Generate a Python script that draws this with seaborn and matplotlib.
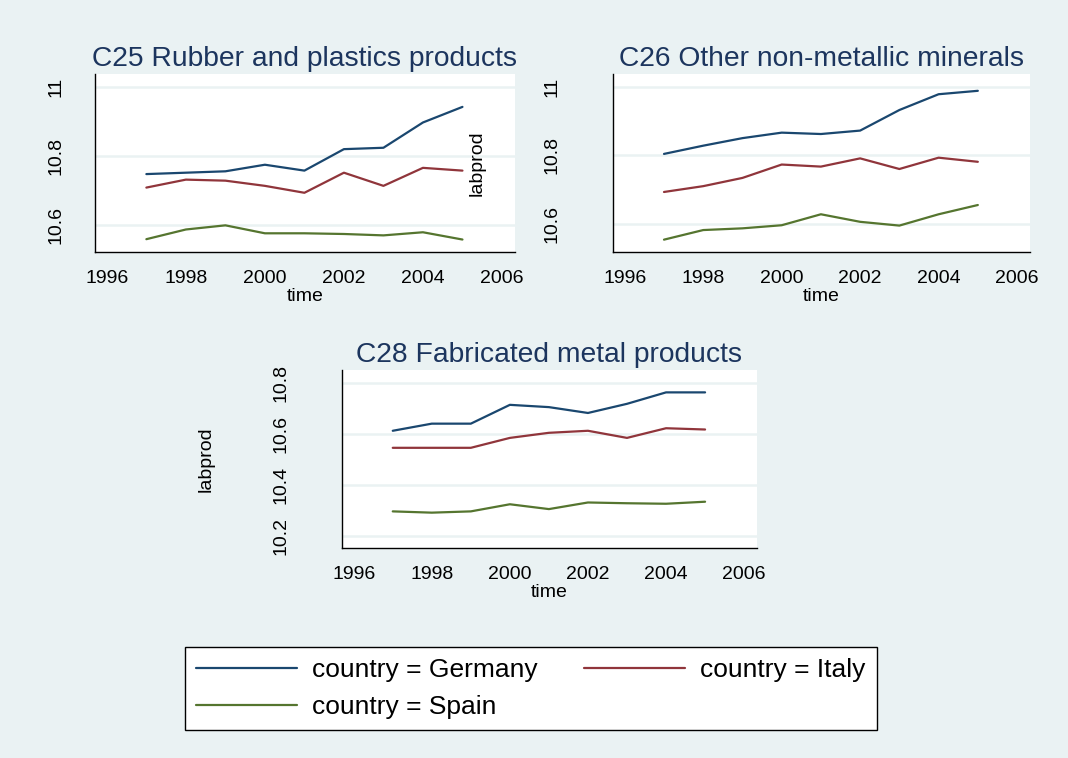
import matplotlib
matplotlib.use("Agg")
import matplotlib.pyplot as plt
import pandas as pd
import seaborn as sns

# labour productivity (log) per sector, 1997-2005
years = [1997, 1998, 1999, 2000, 2001, 2002, 2003, 2004, 2005]

c25_germany = [10.748, 10.752, 10.756, 10.775, 10.758, 10.820, 10.824, 10.897, 10.942]
c25_italy = [10.709, 10.732, 10.729, 10.714, 10.694, 10.752, 10.714, 10.766, 10.758]
c25_spain = [10.560, 10.588, 10.600, 10.577, 10.577, 10.575, 10.571, 10.580, 10.559]

c26_germany = [10.804, 10.828, 10.850, 10.866, 10.862, 10.872, 10.932, 10.978, 10.988]
c26_italy = [10.693, 10.710, 10.734, 10.773, 10.767, 10.791, 10.760, 10.793, 10.781]
c26_spain = [10.554, 10.582, 10.587, 10.596, 10.628, 10.606, 10.595, 10.628, 10.655]

c28_germany = [10.614, 10.642, 10.642, 10.716, 10.707, 10.684, 10.720, 10.765, 10.765]
c28_italy = [10.547, 10.547, 10.547, 10.586, 10.606, 10.614, 10.586, 10.624, 10.619]
c28_spain = [10.297, 10.292, 10.297, 10.325, 10.306, 10.332, 10.329, 10.327, 10.335]

countries = ["Germany", "Italy", "Spain"]
sectors = ["C25 Rubber and plastics products",
           "C26 Other non-metallic minerals",
           "C28 Fabricated metal products"]
series = {
    sectors[0]: [c25_germany, c25_italy, c25_spain],
    sectors[1]: [c26_germany, c26_italy, c26_spain],
    sectors[2]: [c28_germany, c28_italy, c28_spain],
}

rows = []
for sec in sectors:
    for c, vals in zip(countries, series[sec]):
        for t, v in zip(years, vals):
            rows.append({"sector": sec, "country": c, "time": t, "labprod": v})
df = pd.DataFrame(rows)

# stata s2color look
bg = "#EAF2F3"
palette = {"Germany": "#1A476F", "Italy": "#90353B", "Spain": "#55752F"}
title_col = "#1C355E"

sns.set_style("white")
plt.rcParams["font.family"] = ["Liberation Sans", "DejaVu Sans"]
plt.rcParams["text.color"] = "black"
plt.rcParams["axes.labelcolor"] = "black"

W, H = 1068, 758
fig = plt.figure(figsize=(W / 100, H / 100), dpi=100, facecolor=bg)


def px_axes(left, top, right, bottom):
    return fig.add_axes([left / W, 1 - bottom / H, (right - left) / W, (bottom - top) / H])


axes = [px_axes(95, 74, 515, 252),
        px_axes(613, 74, 1030, 252),
        px_axes(342, 370, 757, 548)]
ylims = [(10.523, 11.037), (10.518, 11.037), (10.153, 10.853)]
yticks = [[10.6, 10.8, 11.0], [10.6, 10.8, 11.0], [10.2, 10.4, 10.6, 10.8]]
ylabs = [["10.6", "10.8", "11"], ["10.6", "10.8", "11"], ["10.2", "10.4", "10.6", "10.8"]]
ypads = [16, 32, 32]

for ax, sec, yl, yt, ylab, yp in zip(axes, sectors, ylims, yticks, ylabs, ypads):
    sub = df[df["sector"] == sec]
    sns.lineplot(data=sub, x="time", y="labprod", hue="country", palette=palette,
                 hue_order=countries, linewidth=1.6, ax=ax, legend=False)
    ax.set_facecolor("white")
    ax.set_xlim(1995.7, 2006.33)
    ax.set_ylim(*yl)
    ax.set_xticks(range(1996, 2007, 2))
    ax.set_yticks(yt)
    ax.set_yticklabels(ylab, rotation=90, va="center")
    ax.grid(axis="y", color=bg, linewidth=1.8)
    ax.set_axisbelow(True)
    for s in ["top", "right"]:
        ax.spines[s].set_visible(False)
    for s in ["left", "bottom"]:
        ax.spines[s].set_color("black")
        ax.spines[s].set_linewidth(1.0)
    ax.tick_params(axis="both", direction="out", length=6, width=1.0,
                   colors="black", labelsize=14)
    ax.tick_params(axis="y", pad=yp)
    ax.tick_params(axis="x", pad=7)
    ax.set_xlabel("time", fontsize=14, labelpad=1)
    ax.set_ylabel("")
    ax.set_title(sec, fontsize=20.3, color=title_col, pad=6)

# only the right and bottom panels carry a y title in the original
axes[1].set_ylabel("labprod", fontsize=14)
axes[1].yaxis.set_label_coords(-0.305, 0.5)
axes[2].set_ylabel("labprod", fontsize=14)
axes[2].yaxis.set_label_coords(-0.308, 0.5)

# legend: Germany, Italy on row one, Spain below
handles = [plt.Line2D([], [], color=palette[c], linewidth=1.6) for c in countries]
labels = ["country = " + c for c in countries]
order = [0, 2, 1]
leg = fig.legend([handles[i] for i in order], [labels[i] for i in order],
                 loc="center", bbox_to_anchor=(0.4972, 0.0917), ncol=2,
                 fontsize=19, handlelength=3.8, handletextpad=0.6,
                 columnspacing=1.75, labelspacing=0.5, borderpad=0.42,
                 frameon=True, fancybox=False, framealpha=1, edgecolor="black")
leg.get_frame().set_linewidth(1.0)
leg.get_frame().set_facecolor("white")

fig.savefig("out.png", dpi=100, facecolor=bg)
